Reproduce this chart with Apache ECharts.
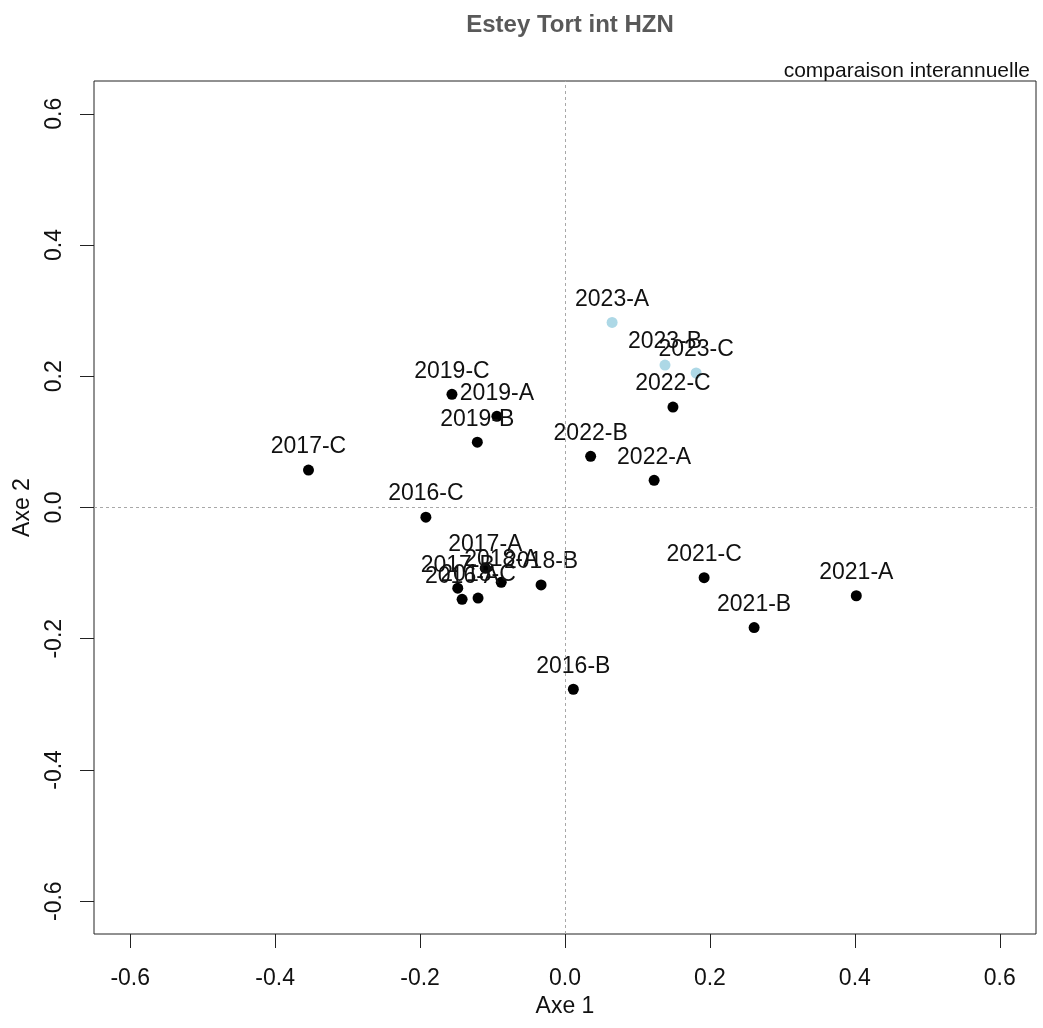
<!DOCTYPE html>
<html>
<head>
<meta charset="utf-8">
<script src="https://cdn.jsdelivr.net/npm/echarts@6/dist/echarts.min.js"></script>
<style>
  html, body { margin: 0; padding: 0; background: #fff; }
  #chart { width: 1043px; height: 1028px; }
</style>
</head>
<body>
<div id="chart"></div>
<script>
// Campaign labels (year-campaign) and their coordinates on the first two axes
const campaigns = [
  '2016-A', '2016-B', '2016-C',
  '2017-A', '2017-B', '2017-C',
  '2018-A', '2018-B', '2018-C',
  '2019-A', '2019-B', '2019-C',
  '2021-A', '2021-B', '2021-C',
  '2022-A', '2022-B', '2022-C',
  '2023-A', '2023-B', '2023-C'
];
const axe1 = [
  -0.142, 0.0115, -0.192,
  -0.110, -0.148, -0.354,
  -0.088, -0.033, -0.120,
  -0.094, -0.121, -0.156,
  0.402, 0.261, 0.192,
  0.123, 0.0354, 0.149,
  0.065, 0.138, 0.181
];
const axe2 = [
  -0.140, -0.277, -0.0147,
  -0.0924, -0.123, 0.057,
  -0.114, -0.118, -0.138,
  0.139, 0.0995, 0.1725,
  -0.1345, -0.183, -0.107,
  0.0415, 0.078, 0.153,
  0.282, 0.217, 0.205
];
const currentYear = '2023';
const tickValues = [-0.6, -0.4, -0.2, 0, 0.2, 0.4, 0.6];

const FONT = '"Liberation Sans", Arial, sans-serif';

const pastPoints = [];
const currentPoints = [];
campaigns.forEach((name, i) => {
  const item = { name: name, value: [axe1[i], axe2[i]] };
  if (name.startsWith(currentYear)) currentPoints.push(item);
  else pastPoints.push(item);
});

const pointLabel = {
  show: true,
  position: 'top',
  distance: 6,
  formatter: p => p.name,
  color: '#111',
  opacity: 1,
  fontFamily: FONT,
  fontSize: 23
};

const axisCommon = {
  type: 'value',
  min: -0.65,
  max: 0.65,
  splitLine: { show: false },
  axisLine: { show: false, onZero: false },
  axisTick: {
    show: true,
    inside: false,
    customValues: tickValues,
    length: 14,
    lineStyle: { color: '#222', width: 1 }
  },
  axisLabel: {
    customValues: tickValues,
    formatter: v => v.toFixed(1),
    color: '#111',
    fontFamily: FONT,
    fontSize: 23
  },
  nameLocation: 'middle',
  nameTextStyle: { color: '#111', fontFamily: FONT, fontSize: 23 }
};

const chart = echarts.init(document.getElementById('chart'), null, { renderer: 'canvas' });
chart.setOption({
  animation: false,
  backgroundColor: '#fff',
  title: [
    {
      text: 'Estey Tort int HZN',
      left: 565,
      top: 8,
      textAlign: 'center',
      textStyle: { color: '#595959', fontFamily: FONT, fontWeight: 'bold', fontSize: 24 }
    },
    {
      text: 'comparaison interannuelle',
      right: 8,
      top: 56,
      textStyle: { color: '#111', fontFamily: FONT, fontWeight: 'normal', fontSize: 21 }
    }
  ],
  grid: {
    left: 94,
    right: 7,
    top: 81,
    bottom: 94,
    show: true,
    borderColor: '#222',
    borderWidth: 1,
    containLabel: false
  },
  xAxis: Object.assign({}, axisCommon, {
    name: 'Axe 1',
    nameGap: 57,
    axisLabel: Object.assign({}, axisCommon.axisLabel, { margin: 33 })
  }),
  yAxis: Object.assign({}, axisCommon, {
    name: 'Axe 2',
    nameGap: 60,
    axisLabel: Object.assign({}, axisCommon.axisLabel, { margin: 28, rotate: 90 })
  }),
  series: [
    {
      type: 'scatter',
      symbol: 'circle',
      symbolSize: 11,
      itemStyle: { color: '#000', opacity: 1 },
      label: pointLabel,
      data: pastPoints,
      markLine: {
        silent: true,
        symbol: 'none',
        label: { show: false },
        lineStyle: { color: '#a8a8a8', type: [3, 3], width: 1 },
        data: [{ xAxis: 0 }, { yAxis: 0 }]
      }
    },
    {
      type: 'scatter',
      symbol: 'circle',
      symbolSize: 11,
      itemStyle: { color: '#ADD8E6', opacity: 1 },
      label: pointLabel,
      data: currentPoints
    }
  ]
});
</script>
</body>
</html>
